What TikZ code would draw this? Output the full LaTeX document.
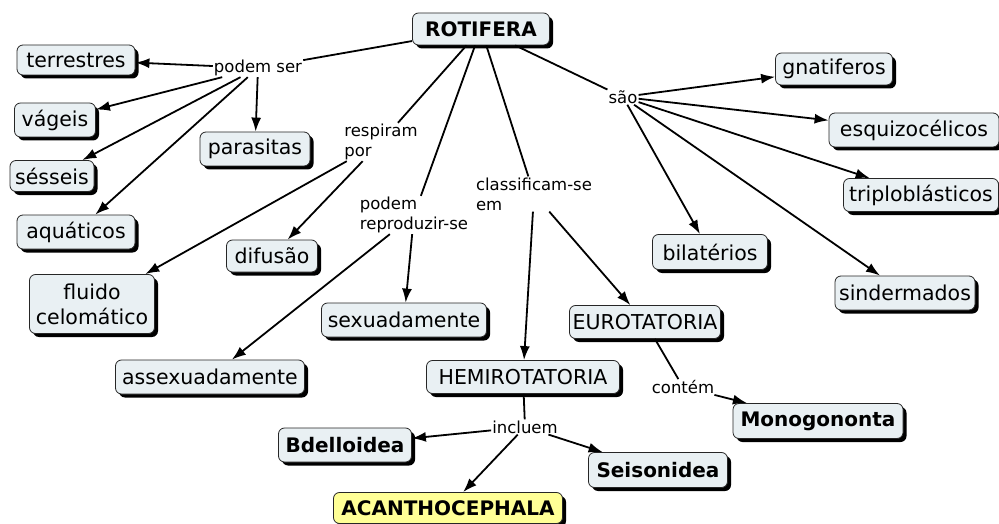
\documentclass[tikz,border=0pt]{standalone}
\usepackage{fontspec}
\setmainfont{DejaVu Sans}
\usetikzlibrary{arrows.meta,shadows}
\definecolor{boxfill}{RGB}{233,240,243}
\definecolor{hilite}{RGB}{255,255,150}
\tikzset{
  box/.style={draw=black!85, line width=0.8pt, rounded corners=6pt, fill=boxfill,
    inner sep=2pt, font=\fontsize{20.5}{23}\selectfont, align=center,
    drop shadow={shadow xshift=3.5pt, shadow yshift=-3.5pt, fill=black, opacity=1}},
  bbox/.style={box, font=\fontsize{20}{23}\selectfont\bfseries},
  lbl/.style={inner sep=1pt, font=\fontsize{16.5}{20}\selectfont, align=left},
  conn/.style={line width=1.8pt},
  arr/.style={conn, -{Latex[length=14pt,width=10pt]}},
}
\begin{document}
\begin{tikzpicture}[x=1pt,y=-1pt]
\useasboundingbox (0,0) rectangle (999,524);
% nodes
\node[bbox, minimum width=137pt, minimum height=32pt] (rot) at (481,29) {ROTIFERA};
\node[box, minimum width=118pt, minimum height=30pt] (ter) at (76,60) {terrestres};
\node[box, minimum width=81pt, minimum height=34pt] (vag) at (55,120) {vágeis};
\node[box, minimum width=84pt, minimum height=31pt] (ses) at (52,176) {sésseis};
\node[box, minimum width=118pt, minimum height=34pt] (aqu) at (76,232) {aquáticos};
\node[box, minimum width=110pt, minimum height=34pt] (par) at (255,149) {parasitas};
\node[box, minimum width=91pt, minimum height=32pt] (dif) at (272,256) {difusão};
\node[box, minimum width=125pt, minimum height=59pt, font=\fontsize{20.5}{25}\selectfont] (flu) at (92,304) {fluido\\celomático};
\node[box, minimum width=165pt, minimum height=34pt] (sex) at (404,320) {sexuadamente};
\node[box, minimum width=189pt, minimum height=34pt] (ase) at (210,377) {assexuadamente};
\node[box, minimum width=193pt, minimum height=33pt] (hem) at (523,377) {HEMIROTATORIA};
\node[box, minimum width=151pt, minimum height=33pt] (eur) at (645,322) {EUROTATORIA};
\node[bbox, minimum width=170pt, minimum height=35pt] (mon) at (818,421) {Monogononta};
\node[bbox, minimum width=133pt, minimum height=34pt] (bde) at (345,445) {Bdelloidea};
\node[bbox, minimum width=139pt, minimum height=35pt] (sei) at (658,470) {Seisonidea};
\node[bbox, fill=hilite, minimum width=229pt, minimum height=31pt] (aca) at (448,508) {ACANTHOCEPHALA};
\node[box, minimum width=117pt, minimum height=32pt] (gna) at (834,69) {gnatiferos};
\node[box, minimum width=170pt, minimum height=34pt] (esq) at (914,130) {esquizocélicos};
\node[box, minimum width=155pt, minimum height=33pt] (tri) at (921,195) {triploblásticos};
\node[box, minimum width=115pt, minimum height=35pt] (bil) at (710,252) {bilatérios};
\node[box, minimum width=140pt, minimum height=34pt] (sin) at (905,293) {sindermados};
% linking phrases
\node[lbl] (ps) at (258,68) {podem ser};
\node[lbl] (rp) at (381,142) {respiram\\por};
\node[lbl] (pr) at (414,215) {podem\\reproduzir-se};
\node[lbl] (cl) at (534,194) {classificam-se\\em};
\node[lbl] (sao) at (623,97) {são};
\node[lbl] (cont) at (683,387) {contém};
\node[lbl] (inc) at (525,427) {incluem};
% connectors
\draw[conn] (rot) -- (ps);
\draw[arr] (ps) -- (ter);
\draw[arr] (ps) -- (vag);
\draw[arr] (ps) -- (ses);
\draw[arr] (ps) -- (aqu);
\draw[arr] (ps) -- (par);
\draw[conn] (rot) -- (rp);
\draw[arr] (rp) -- (dif);
\draw[arr] (rp) -- (flu);
\draw[conn] (rot) -- (pr);
\draw[arr] (pr) -- (sex);
\draw[arr] (pr) -- (ase);
\draw[conn] (rot) -- (cl);
\draw[arr] (cl) -- (hem);
\draw[arr] (cl) -- (eur);
\draw[conn] (eur) -- (cont);
\draw[arr] (cont) -- (mon);
\draw[conn] (hem) -- (inc);
\draw[arr] (inc) -- (bde);
\draw[arr] (inc) -- (aca);
\draw[arr] (inc) -- (sei);
\draw[conn] (rot) -- (sao);
\draw[arr] (sao) -- (gna);
\draw[arr] (sao) -- (esq);
\draw[arr] (sao) -- (tri);
\draw[arr] (sao) -- (bil);
\draw[arr] (sao) -- (sin);
\end{tikzpicture}
\end{document}
